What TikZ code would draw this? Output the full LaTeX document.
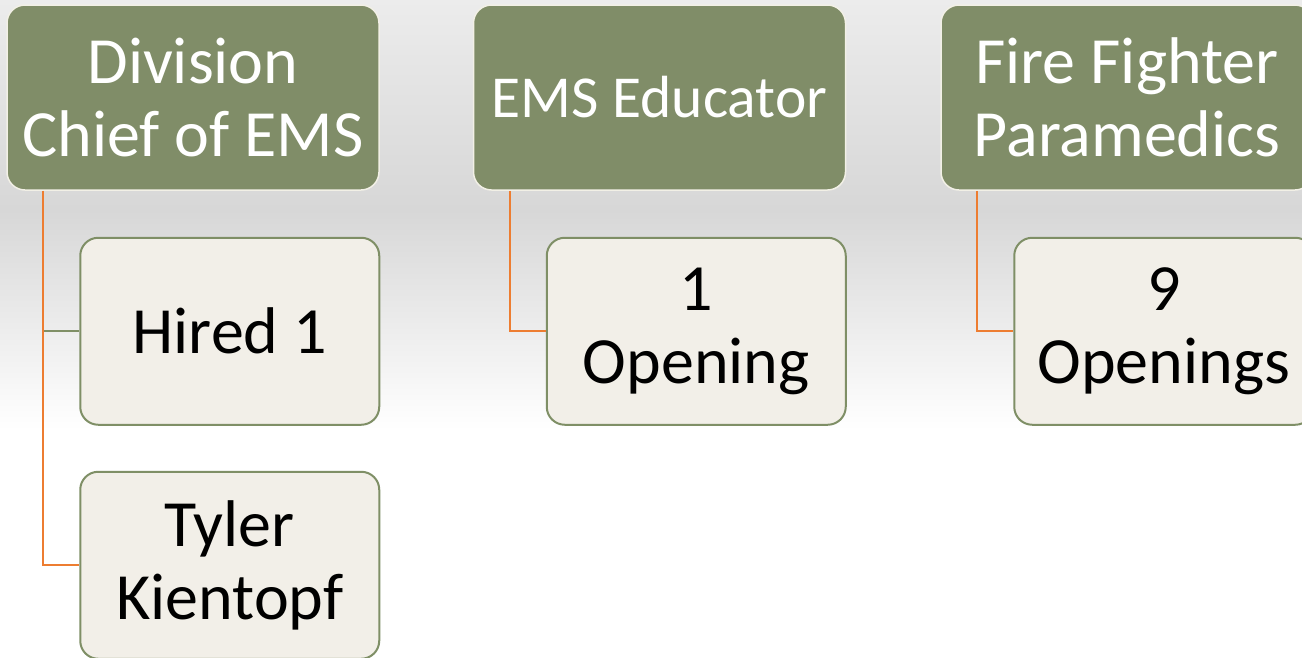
\documentclass[tikz,border=0pt]{standalone}
\usepackage{fontspec}
\setmainfont{Carlito}
\usetikzlibrary{positioning}
\definecolor{headgreen}{RGB}{128,141,104}
\definecolor{headline}{RGB}{242,240,230}
\definecolor{childfill}{RGB}{242,239,232}
\definecolor{childline}{RGB}{127,143,102}
\definecolor{linkorange}{RGB}{237,125,49}
\definecolor{bgtop}{RGB}{236,236,236}
\definecolor{bggray}{RGB}{215,215,215}
\newcommand{\orgfont}{\fontsize{66}{73}\selectfont}
\newcommand{\smallorgfont}{\fontsize{59.5}{66}\selectfont}
\tikzstyle{head} = [rectangle, rounded corners=18pt, minimum width=372pt, minimum height=185pt, inner sep=0pt, align=center, draw=headline, line width=1.5pt, fill=headgreen, text=white, font=\orgfont]
\tikzstyle{member} = [rectangle, rounded corners=18pt, minimum width=299pt, minimum height=187pt, inner sep=0pt, align=center, draw=childline, line width=2pt, fill=childfill, text=black, font=\orgfont]
\tikzstyle{link} = [line width=2pt, draw=linkorange]
\begin{document}
\begin{tikzpicture}[x=1pt, y=-1pt]
                \useasboundingbox (0,0) rectangle (1302,657);
                \clip (0,0) rectangle (1302,657);
                % background
                \fill [bgtop] (0,0) rectangle (1302,657);
                \shade [top color=bgtop, bottom color=bggray] (0,0) rectangle (1302,210);
                \shade [top color=bggray, bottom color=white] (0,210) rectangle (1302,430);
                \fill [white] (0,430) rectangle (1302,657);

                \node (chief) [head] at (193,97.5) {Division\\Chief of EMS};
                \node (educator) [head, font=\smallorgfont] at (659.5,97.5) {EMS Educator};
                \node (medics) [head] at (1127,97.5) {Fire Fighter\\Paramedics};

                \node (hired) [member, below right=46pt and 73pt of chief.south west] {Hired 1};
                \node (tyler) [member, below=45pt of hired] {Tyler\\Kientopf};
                \node (opening) [member, below right=46pt and 73pt of educator.south west] {1\\Opening};
                \node (openings) [member, below right=46pt and 73pt of medics.south west] {9\\Openings};

                \draw [link, draw=childline] ([xshift=37pt]chief.south west) |- (hired.west);
                \draw [link] ([xshift=37pt]chief.south west) |- (tyler.west);
                \draw [link] ([xshift=37pt]educator.south west) |- (opening.west);
                \draw [link] ([xshift=37pt]medics.south west) |- (openings.west);
            \end{tikzpicture}
\end{document}
